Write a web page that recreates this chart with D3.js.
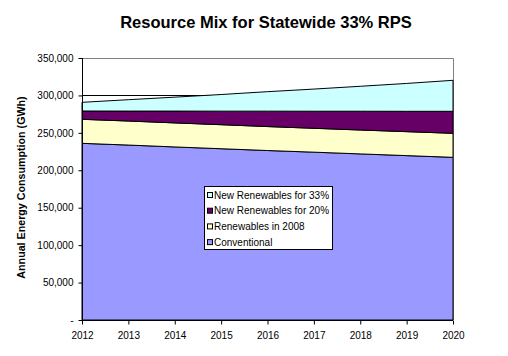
<!DOCTYPE html>
<html><head><meta charset="utf-8">
<script src="https://cdn.jsdelivr.net/npm/d3@7"></script>
<style>body{margin:0;background:#fff}svg{display:block;font-family:"Liberation Sans",Arial,sans-serif}</style>
</head><body><svg id="c" width="508" height="356"></svg>
<script>
const years = [2012, 2013, 2014, 2015, 2016, 2017, 2018, 2019, 2020];
const conventional = [236000, 233700, 231200, 228800, 226400, 224200, 221900, 219600, 217300];
const renewables2008 = [32100, 32100, 32100, 32100, 32000, 31900, 31900, 32000, 32100];
const newRenew20 = [11100, 13300, 15800, 18100, 20600, 22800, 25100, 27200, 29400];
const newRenew33 = [11600, 15200, 18600, 22200, 26000, 29600, 33300, 37200, 41400];
const seriesNames = ["Conventional", "Renewables in 2008", "New Renewables for 20%", "New Renewables for 33%"];
const seriesColors = ["#9999FF", "#FFFFCC", "#660066", "#CCFFFF"];
const yTicks = [0, 50000, 100000, 150000, 200000, 250000, 300000, 350000];
const title = "Resource Mix for Statewide 33% RPS";
const yTitle = "Annual Energy Consumption (GWh)";

const svg = d3.select("#c");
const L = 82, R = 453, T = 58, B = 320;
const x = d3.scaleLinear().domain([2012, 2020]).range([L, R]);
const y = d3.scaleLinear().domain([0, 350000]).range([B, T]);

const rows = years.map((yr, i) => ({year: yr, s0: conventional[i], s1: renewables2008[i], s2: newRenew20[i], s3: newRenew33[i]}));
const stack = d3.stack().keys(["s0", "s1", "s2", "s3"]);
const layers = stack(rows);

// gridlines
svg.append("g").selectAll("line").data(yTicks.filter(d => d > 0 && d < 350000)).join("line")
  .attr("x1", L).attr("x2", R).attr("y1", d => Math.round(y(d)) + 0.5).attr("y2", d => Math.round(y(d)) + 0.5)
  .attr("stroke", "#000").attr("stroke-width", 1);
// plot border (top/right gray)
svg.append("path").attr("d", `M${L},${T + 0.5}H${R + 0.5}V${B}`).attr("fill", "none").attr("stroke", "#808080");

const area = d3.area().x(d => x(d.data.year)).y0(d => y(d[0])).y1(d => y(d[1]));
svg.append("g").selectAll("path").data(layers).join("path")
  .attr("d", area).attr("fill", (d, i) => seriesColors[i])
  .attr("stroke", "#000").attr("stroke-width", 1);

// axes
const yAxis = d3.axisLeft(y).tickValues(yTicks).tickSize(4).tickPadding(5)
  .tickFormat(d => d === 0 ? "-" : d3.format(",")(d));
const gy = svg.append("g").attr("transform", `translate(${L + 0.5},0)`).call(yAxis);
const xAxis = d3.axisBottom(x).tickValues(years).tickSize(4).tickPadding(7).tickFormat(d3.format("d"));
const gx = svg.append("g").attr("transform", `translate(0,${B + 0.5})`).call(xAxis);
[gx, gy].forEach(g => {
  g.selectAll("path").attr("stroke", "#000");
  g.selectAll("line").attr("stroke", "#000");
  g.selectAll("text").attr("font-size", 10).attr("fill", "#000").attr("font-family", "Liberation Sans, Arial, sans-serif");
});
gy.select(".domain").attr("d", `M0,${T}V${B}`);
gx.select(".domain").attr("d", `M${L},0H${R}`);

// titles
svg.append("text").attr("x", 266).attr("y", 28).attr("text-anchor", "middle")
  .attr("font-size", 16.5).attr("font-weight", "bold").text(title);
svg.append("text").attr("transform", "translate(25,187.5) rotate(-90)").attr("text-anchor", "middle")
  .attr("font-size", 10.7).attr("font-weight", "bold").text(yTitle);

// legend
const lg = svg.append("g").attr("transform", "translate(204,186)");
lg.append("rect").attr("x", 0.5).attr("y", 0.5).attr("width", 128).attr("height", 63)
  .attr("fill", "#fff").attr("stroke", "#000");
const order = [3, 2, 1, 0];
const items = lg.selectAll("g.item").data(order).join("g").attr("class", "item")
  .attr("transform", (d, i) => `translate(0,${9 + i * 15.7})`);
items.append("rect").attr("x", 3.5).attr("y", -2.5).attr("width", 5).attr("height", 5)
  .attr("fill", d => seriesColors[d]).attr("stroke", "#000");
items.append("text").attr("x", 10).attr("y", 3.6).attr("font-size", 10).text(d => seriesNames[d]);
</script></body></html>
